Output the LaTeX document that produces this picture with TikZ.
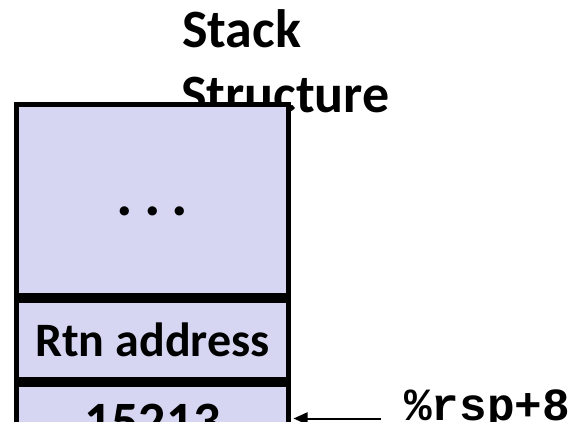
\documentclass[tikz,border=0pt]{standalone}
\usepackage{fontspec}
\setmainfont{Carlito}
\newfontfamily\codefont{Liberation Mono}
\usetikzlibrary{calc}
\usetikzlibrary{positioning}
\usetikzlibrary{arrows.meta}

\definecolor{stackfill}{RGB}{214,214,242}

\begin{document}
\begin{tikzpicture}[x=1pt, y=-1pt,
    cell/.style={draw=black, line width=5pt, fill=stackfill, anchor=north west,
        minimum width=272pt, inner sep=0pt, font=\fontsize{54}{64}\selectfont\bfseries},
    title/.style={anchor=base west, inner sep=0pt, font=\fontsize{54}{64}\selectfont\bfseries},
    ptr/.style={-{Triangle[length=14pt, width=12pt]}, line width=2pt}]

    % 画布大小
    \useasboundingbox (0,0) rectangle (571,421);
    \clip (0,0) rectangle (571,421);

    % 标题
    \node[title] (title1) at (182,47) {Stack};
    \node[title] (title2) at (181,112) {Structure};

    % 栈帧
    \node[cell, minimum height=191pt, font=\fontsize{62}{70}\selectfont\bfseries]
        (frame) at (14,101.5)
        {\raisebox{-16pt}[0pt][0pt]{.\hspace{11pt}.\hspace{11pt}.}};
    \node[cell, minimum height=79pt, font=\fontsize{48}{58}\selectfont\bfseries,
        below=0pt of frame.south west, anchor=north west] (rtn) {Rtn address};
    \node[cell, minimum height=75pt, below=0pt of rtn.south west, anchor=north west]
        (val) {15213};

    % 指针 %rsp+8
    \coordinate (rsp_tail) at (381,418.5);
    \node[anchor=base west, inner sep=0pt, font=\fontsize{46}{55}\selectfont\codefont\bfseries]
        (rsp) at (404,420) {\%rsp+8};
    \draw[ptr] (rsp_tail) -- ($(val.east |- rsp_tail) + (2.5,0)$);

\end{tikzpicture}
\end{document}
